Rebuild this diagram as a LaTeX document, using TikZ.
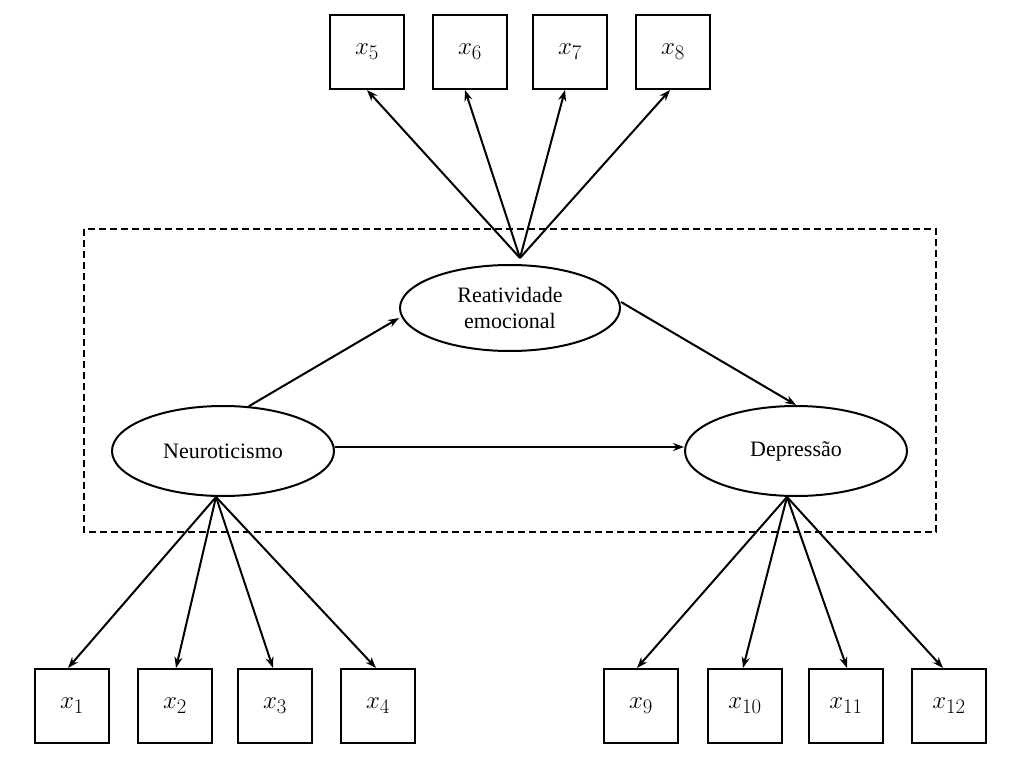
\documentclass[tikz,border=0pt]{standalone}
\usepackage{fontspec}
\setmainfont{Liberation Serif}
\usetikzlibrary{shapes.geometric,arrows.meta}
\begin{document}
\begin{tikzpicture}[x=1pt,y=-1pt,
  box/.style={draw,line width=2pt,minimum width=74pt,minimum height=74pt,inner sep=0pt,font=\fontsize{28}{30}\selectfont},
  lat/.style={draw,ellipse,line width=2pt,inner sep=0pt,font=\fontsize{22}{26}\selectfont,align=center},
  arr/.style={line width=2pt,-{Stealth[length=11pt,width=8pt]}}]
\useasboundingbox (0,0) rectangle (1019,767);
\draw[line width=2pt,dash pattern=on 7pt off 4pt] (84,229) rectangle (936,532);
\node[lat,minimum width=220pt,minimum height=86pt] (r) at (510,308) {Reatividade\\emocional};
\node[lat,minimum width=222pt,minimum height=90pt] (n) at (223,451) {Neuroticismo};
\node[lat,minimum width=222pt,minimum height=90pt] (d) at (796,451) {Depressão};
\foreach \n/\x in {5/367,6/470,7/570,8/673}{\node[box] (x\n) at (\x,52) {$x_{\n}$};}
\foreach \n/\x in {1/72,2/175,3/275,4/378,9/641,10/745,11/846,12/949}{\node[box] (x\n) at (\x,706) {$x_{\n}$};}
\coordinate (rt) at (520,258);
\coordinate (nb) at (216,497);
\coordinate (db) at (787,497);
\draw[arr] (rt) -- ([xshift=0pt]x5.south);
\draw[arr] (rt) -- ([xshift=-5pt]x6.south);
\draw[arr] (rt) -- ([xshift=-5pt]x7.south);
\draw[arr] (rt) -- ([xshift=-3pt]x8.south);
\draw[arr] (nb) -- ([xshift=-4pt]x1.north);
\draw[arr] (nb) -- ([xshift=1pt]x2.north);
\draw[arr] (nb) -- ([xshift=-2pt]x3.north);
\draw[arr] (nb) -- ([xshift=-2pt]x4.north);
\draw[arr] (db) -- ([xshift=-4pt]x9.north);
\draw[arr] (db) -- ([xshift=-2pt]x10.north);
\draw[arr] (db) -- ([xshift=1pt]x11.north);
\draw[arr] (db) -- ([xshift=-6pt]x12.north);
\draw[arr] (n.60) -- (r.west|-0,318) ;
\draw[arr] (r.east|-0,302) -- (d.north);
\draw[arr] (n.east|-0,447) -- (d.west|-0,447);
\end{tikzpicture}
\end{document}
